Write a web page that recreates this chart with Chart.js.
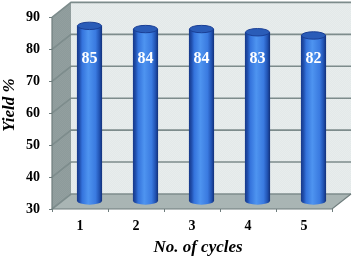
<!DOCTYPE html>
<html><head><meta charset="utf-8">
<style>html,body{margin:0;padding:0;background:#fff}#w{width:354px;height:260px}</style>
<script src="https://cdn.jsdelivr.net/npm/chart.js@4"></script>
</head><body><div id="w"><canvas id="c" width="354" height="260"></canvas></div>
<script>
const categories = ["1","2","3","4","5"];
const yieldValues = [85,84,84,83,82];
const yTicks = [30,40,50,60,70,80,90];
const xTitle = "No. of cycles";
const yTitle = "Yield %";
const labelLevel = 74.7;
const axisFloor = 30;

const DX = 19, DY = -15, BARW = 24.5, RY = 3.7;
function hatch(ctx,a,b){
  const p=document.createElement('canvas');p.width=p.height=2;
  const g=p.getContext('2d');g.fillStyle=a;g.fillRect(0,0,2,2);
  g.fillStyle=b;g.fillRect(0,0,1,1);g.fillRect(1,1,1,1);
  return ctx.createPattern(p,'repeat');
}
function barGrad(ctx,cx){
  const g=ctx.createLinearGradient(cx-BARW/2,0,cx+BARW/2,0);
  g.addColorStop(0,'#173a8c');g.addColorStop(0.1,'#2150ae');g.addColorStop(0.2,'#3473dc');
  g.addColorStop(0.45,'#4e94f0');g.addColorStop(0.75,'#3a7ae0');g.addColorStop(0.9,'#2254b4');g.addColorStop(1,'#143480');
  return g;
}
const scene = {
  id:'scene',
  beforeDatasetsDraw(chart){
    const {ctx,chartArea:a,scales:{y}}=chart;
    ctx.save();
    // back wall
    ctx.fillStyle=hatch(ctx,'#e3e9e9','#e8eded');
    ctx.fillRect(a.left+DX,a.top+DY,a.right-a.left,a.bottom-a.top);
    // left wall
    ctx.fillStyle=hatch(ctx,'#8d9b9b','#939f9f');
    ctx.beginPath();ctx.moveTo(a.left,a.top);ctx.lineTo(a.left+DX,a.top+DY);
    ctx.lineTo(a.left+DX,a.bottom+DY);ctx.lineTo(a.left,a.bottom);ctx.closePath();ctx.fill();
    // floor
    ctx.fillStyle='#a9b5b4';
    ctx.beginPath();ctx.moveTo(a.left,a.bottom);ctx.lineTo(a.left+DX,a.bottom+DY);
    ctx.lineTo(a.right+DX,a.bottom+DY);ctx.lineTo(a.right,a.bottom);ctx.closePath();ctx.fill();
    // grid lines
    ctx.strokeStyle='#7d8c8c';ctx.lineWidth=1.6;
    y.ticks.forEach(t=>{
      const py=y.getPixelForValue(t.value);
      ctx.beginPath();ctx.moveTo(a.left,py);ctx.lineTo(a.left+DX,py+DY);ctx.lineTo(a.right+DX,py+DY);ctx.stroke();
    });
    // front axes
    ctx.strokeStyle='#6f7d7d';ctx.lineWidth=1.2;
    ctx.beginPath();ctx.moveTo(a.left,a.top);ctx.lineTo(a.left,a.bottom);ctx.lineTo(a.right,a.bottom);ctx.lineTo(a.right+DX,a.bottom+DY);ctx.stroke();
    ctx.restore();
    // bars: shifted to mid depth
    ctx.save();
    ctx.translate(DX/2,DY/2);
    chart.getDatasetMeta(0).data.forEach(el=>{
      ctx.fillStyle=barGrad(ctx,el.x);
      ctx.beginPath();ctx.ellipse(el.x,el.base,BARW/2,RY,0,0,Math.PI*2);ctx.fill();
    });
  },
  afterDatasetsDraw(chart){
    const {ctx,scales:{y}}=chart;
    chart.getDatasetMeta(0).data.forEach((el,i)=>{
      ctx.fillStyle='#2a5cb8';ctx.strokeStyle='#1a3f95';ctx.lineWidth=1;
      ctx.beginPath();ctx.ellipse(el.x,el.y,BARW/2-0.3,RY,0,0,Math.PI*2);ctx.fill();ctx.stroke();
      ctx.fillStyle='#fff';ctx.font='bold 16px "Liberation Serif"';ctx.textAlign='center';ctx.textBaseline='middle';
      ctx.fillText(String(yieldValues[i]),el.x,y.getPixelForValue(labelLevel));
    });
    ctx.restore();
    ctx.save();
    ctx.fillStyle='#000';ctx.font='italic bold 17px "Liberation Serif"';ctx.textAlign='center';ctx.textBaseline='middle';
    ctx.fillText(xTitle,198,248);
    ctx.translate(9.5,105);ctx.rotate(-Math.PI/2);
    ctx.fillText(yTitle,0,0);
    ctx.restore();
  }
};
new Chart(document.getElementById('c'),{
  type:'bar',
  data:{labels:categories,datasets:[{
    data:yieldValues,base:axisFloor,clip:false,borderWidth:0,barThickness:BARW,
    backgroundColor:c=>{
      const x=c.chart.scales.x;
      const px=(x&&c.dataIndex!==undefined)?x.getPixelForValue(c.dataIndex):NaN;
      return Number.isFinite(px)?barGrad(c.chart.ctx,px):'#2f6cd6';
    }
  }]},
  plugins:[scene],
  options:{
    responsive:false,animation:false,
    layout:{padding:{top:16,right:22,left:0,bottom:0}},
    plugins:{legend:{display:false},tooltip:{enabled:false},title:{display:false}},
    scales:{
      x:{grid:{display:true,drawOnChartArea:false,tickLength:3,color:'#6f7d7d'},border:{display:false},
         ticks:{color:'#000',padding:6,font:{family:'"Liberation Serif"',weight:'bold',size:14},maxRotation:0},
         afterFit(s){s.height=51;}},
      y:{min:30,max:90,afterBuildTicks(s){s.ticks=yTicks.map(v=>({value:v}));},
         grid:{display:true,drawOnChartArea:false,tickLength:3,color:'#6f7d7d'},border:{display:false},
         ticks:{color:'#000',padding:9,font:{family:'"Liberation Serif"',weight:'bold',size:14}},
         afterFit(s){s.width=52;}}
    }
  }
});
</script></body></html>
